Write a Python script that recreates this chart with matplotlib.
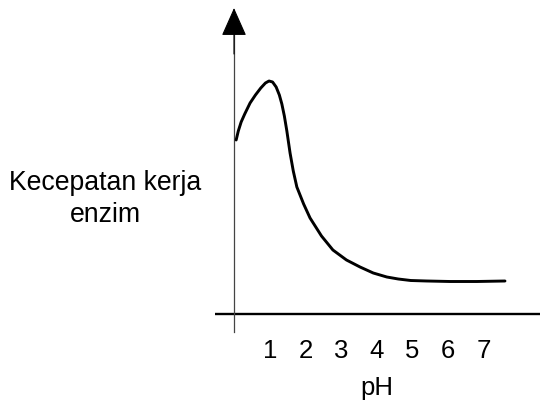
import numpy as np
import matplotlib.pyplot as plt

plt.rcParams['font.family'] = ['Liberation Sans', 'DejaVu Sans']

# curve (pH, relative speed)
ph = [0.06, 0.12, 0.20, 0.30, 0.45, 0.60, 0.75, 0.88, 0.98, 1.08, 1.18,
      1.27, 1.34, 1.41, 1.48, 1.57, 1.66, 1.76, 1.95, 2.13, 2.45, 2.77,
      3.15, 3.53, 3.90, 4.28, 4.60, 4.95, 5.40, 6.05, 6.80, 7.59]
speed = [17.4, 18.3, 19.2, 20.0, 21.1, 21.9, 22.6, 23.1, 23.3, 23.2, 22.7,
         21.9, 21.0, 19.8, 18.3, 16.1, 14.3, 12.7, 11.0, 9.6, 7.8, 6.4,
         5.4, 4.7, 4.1, 3.7, 3.5, 3.35, 3.3, 3.25, 3.25, 3.3]
tick_pos = [1, 2, 3, 4, 5, 6, 7]
tick_lbl = ['1', '2', '3', '4', '5', '6', '7']

fig = plt.figure(figsize=(5.4, 4.03), dpi=100)
ax = fig.add_axes([0, 0, 1, 1])
ax.set_xlim(-6.555, 8.571)
ax.set_ylim(-8.9, 31.4)
ax.axis('off')

# axes drawn by hand
ax.plot([-0.53, 8.6], [0, 0], color='black', lw=1.7, solid_capstyle='butt')
ax.plot([0, 0], [-1.8, 29], color='#444444', lw=0.9)
ax.annotate('', xy=(0, 30.6), xytext=(0, 26),
            arrowprops=dict(arrowstyle='-|>,head_length=0.9,head_width=0.4',
                            mutation_scale=20, lw=0.8, color='black',
                            shrinkA=0, shrinkB=0))

ax.plot(ph, speed, color='black', lw=2.1, solid_joinstyle='round', solid_capstyle='round')

for p, t in zip(tick_pos, tick_lbl):
    ax.text(p, -3.7, t, ha='center', va='center', fontsize=18.5)
ax.text(4.0, -7.4, 'pH', ha='center', va='center', fontsize=18.5)
ax.text(-3.61, 11.5, 'Kecepatan kerja\nenzim', ha='center', va='center',
        fontsize=19.2, linespacing=1.25)

fig.savefig('out.png', dpi=100)
